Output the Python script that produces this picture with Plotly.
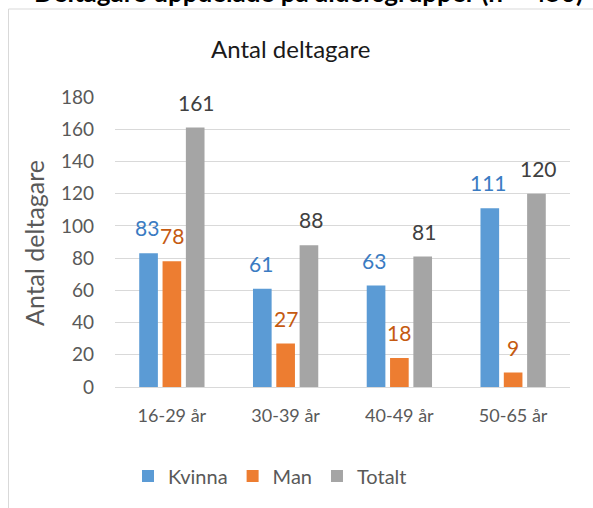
import plotly.graph_objects as go

categories = ["16-29 år", "30-39 år", "40-49 år", "50-65 år"]
kvinna = [83, 61, 63, 111]
man = [78, 27, 18, 9]
totalt = [161, 88, 81, 120]
series_names = ["Kvinna", "Man", "Totalt"]
series_values = [kvinna, man, totalt]
bar_colors = ["#5B9BD5", "#ED7D31", "#A5A5A5"]
label_colors = ["#3A7BC2", "#C55A11", "#404040"]
y_ticks = [0, 20, 40, 60, 80, 100, 120, 140, 160, 180]

FONT = "Lato, 'Open Sans', sans-serif"
W, H = 593, 508
L, R, T, B = 115, 23, 97, 121
pw, ph = W - L - R, H - T - B


def px_x(p):
    return (p - L) / pw


def px_y(p):
    return (H - B - p) / ph


fig = go.Figure()
for name, vals, col in zip(series_names, series_values, bar_colors):
    fig.add_trace(go.Bar(name=name, x=categories, y=vals, marker=dict(color=col, line=dict(width=0))))

annotations = []
offsets = [-25, 0, 25]
for vals, lc, off in zip(series_values, label_colors, offsets):
    for c, v in zip(categories, vals):
        annotations.append(dict(x=c, y=v, xref="x", yref="y", text=str(v), showarrow=False,
                                xshift=off, yshift=11, yanchor="bottom",
                                font=dict(family=FONT, size=21, color=lc)))

# chart title
annotations.append(dict(x=px_x(290), y=px_y(49), xref="paper", yref="paper", text="Antal deltagare",
                        showarrow=False, xanchor="center", yanchor="middle",
                        font=dict(family=FONT, size=24, color="#1a1a1a")))
# y-axis title
annotations.append(dict(x=px_x(34), y=px_y(243), xref="paper", yref="paper", text="Antal deltagare",
                        showarrow=False, textangle=-90, xanchor="center", yanchor="middle",
                        font=dict(family=FONT, size=25, color="#595959")))
# cut-off document heading above the chart
annotations.append(dict(x=px_x(308), y=px_y(10), xref="paper", yref="paper",
                        text="<b>Deltagare uppdelade på åldersgrupper (n = 450)</b>",
                        showarrow=False, xanchor="center", yanchor="bottom",
                        font=dict(family=FONT, size=26, color="#000000")))

shapes = [
    dict(type="line", xref="paper", yref="paper", x0=px_x(8.5), x1=px_x(8.5), y0=px_y(520), y1=px_y(9),
         line=dict(color="#D9D9D9", width=1)),
    dict(type="line", xref="paper", yref="paper", x0=px_x(8.5), x1=px_x(610), y0=px_y(9), y1=px_y(9),
         line=dict(color="#D9D9D9", width=1)),
]

fig.update_layout(
    width=W, height=H,
    margin=dict(l=L, r=R, t=T, b=B, autoexpand=False),
    paper_bgcolor="white", plot_bgcolor="white",
    barmode="group", bargap=0.385, bargroupgap=0.2,
    font=dict(family=FONT, size=18, color="#595959"),
    annotations=annotations, shapes=shapes,
    legend=dict(orientation="h", x=px_x(270), y=px_y(476), xanchor="center", yanchor="middle",
                font=dict(family=FONT, size=20, color="#595959"), itemwidth=30, traceorder="normal"),
    xaxis=dict(showgrid=False, showline=True, linecolor="#D9D9D9", linewidth=1, automargin=False,
               tickfont=dict(family=FONT, size=18, color="#595959"), ticks="outside", ticklen=12,
               tickcolor="rgba(0,0,0,0)"),
    yaxis=dict(range=[0, 180], tickvals=y_ticks, showgrid=True, gridcolor="#D9D9D9", gridwidth=1,
               zeroline=False, showline=False, ticklabelstandoff=20, automargin=False,
               tickfont=dict(family=FONT, size=19, color="#595959")),
)

fig.write_html("out.html", config={"displayModeBar": False},
               post_script="document.body.style.margin='0';document.body.style.overflow='hidden';")
